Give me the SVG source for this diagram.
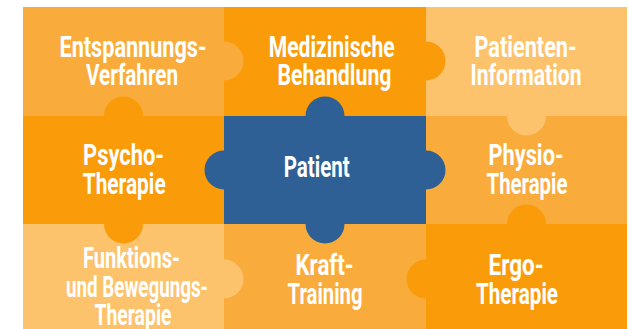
<svg xmlns="http://www.w3.org/2000/svg" width="629" height="329" viewBox="0 0 629 329">
<style>
.light{fill:#FCC36C}
.mid{fill:#F9AC3B}
.dark{fill:#FA9B0A}
.blue{fill:#2E5F95}
text{font-family:Roboto,"Liberation Sans",sans-serif;font-weight:700;font-size:29px;fill:#FFFFFF;text-anchor:middle}
</style>
<rect x="0" y="0" width="629" height="329" fill="#FFFFFF"/>
<g id="physio">
<rect class="mid" x="426" y="116" width="201" height="108"/>
<text x="526" y="164.5" textLength="75" lengthAdjust="spacingAndGlyphs">Physio-</text>
<text x="527" y="193.5" textLength="81" lengthAdjust="spacingAndGlyphs">Therapie</text>
</g>
<g id="kraft">
<rect class="mid" x="224" y="224" width="202" height="110"/>
<text x="324.5" y="275" textLength="58" lengthAdjust="spacingAndGlyphs">Kraft-</text>
<text x="325" y="303.5" textLength="75" lengthAdjust="spacingAndGlyphs">Training</text>
</g>
<g id="patienten-information">
<rect class="light" x="426" y="7" width="201" height="109"/>
<circle class="light" cx="526.5" cy="116" r="19.5"/>
<text x="525.5" y="56.5" textLength="102" lengthAdjust="spacingAndGlyphs">Patienten-</text>
<text x="526" y="85" textLength="111" lengthAdjust="spacingAndGlyphs">Information</text>
</g>
<g id="medizinische-behandlung">
<rect class="dark" x="224" y="7" width="202" height="109"/>
<circle class="dark" cx="426" cy="61" r="19.5"/>
<text x="331.7" y="56.5" textLength="126" lengthAdjust="spacingAndGlyphs">Medizinische</text>
<text x="334.5" y="85" textLength="114" lengthAdjust="spacingAndGlyphs">Behandlung</text>
</g>
<g id="entspannungsverfahren">
<rect class="mid" x="23" y="7" width="201" height="109"/>
<circle class="mid" cx="224" cy="61" r="19.5"/>
<text x="133" y="56.5" textLength="147" lengthAdjust="spacingAndGlyphs">Entspannungs-</text>
<text x="132" y="85" textLength="92" lengthAdjust="spacingAndGlyphs">Verfahren</text>
</g>
<g id="funktions-bewegungstherapie">
<rect class="light" x="23" y="224" width="201" height="110"/>
<circle class="light" cx="224" cy="279" r="19.5"/>
<text x="131.5" y="268.3" textLength="97" lengthAdjust="spacingAndGlyphs">Funktions-</text>
<text x="137" y="296.7" textLength="142" lengthAdjust="spacingAndGlyphs">und Bewegungs-</text>
<text x="133" y="325" textLength="77" lengthAdjust="spacingAndGlyphs">Therapie</text>
</g>
<g id="psychotherapie">
<rect class="dark" x="23" y="116" width="201" height="108"/>
<circle class="dark" cx="123.5" cy="116" r="19.5"/>
<circle class="dark" cx="123.5" cy="224" r="19.5"/>
<text x="123.5" y="164.5" textLength="81" lengthAdjust="spacingAndGlyphs">Psycho-</text>
<text x="124.2" y="193.5" textLength="83" lengthAdjust="spacingAndGlyphs">Therapie</text>
</g>
<g id="ergotherapie">
<rect class="dark" x="426" y="224" width="201" height="110"/>
<circle class="dark" cx="526.5" cy="224" r="19.5"/>
<circle class="dark" cx="426" cy="279" r="19.5"/>
<text x="516" y="275" textLength="55" lengthAdjust="spacingAndGlyphs">Ergo-</text>
<text x="517" y="304" textLength="82" lengthAdjust="spacingAndGlyphs">Therapie</text>
</g>
<g id="patient">
<rect class="blue" x="224" y="116" width="202" height="108"/>
<circle class="blue" cx="325" cy="116" r="19.5"/>
<circle class="blue" cx="224" cy="170" r="19.5"/>
<circle class="blue" cx="426" cy="170" r="19.5"/>
<circle class="blue" cx="325" cy="224" r="19.5"/>
<text x="316.7" y="177.3" textLength="66" lengthAdjust="spacingAndGlyphs">Patient</text>
</g>
<g id="connectors"></g>
</svg>
